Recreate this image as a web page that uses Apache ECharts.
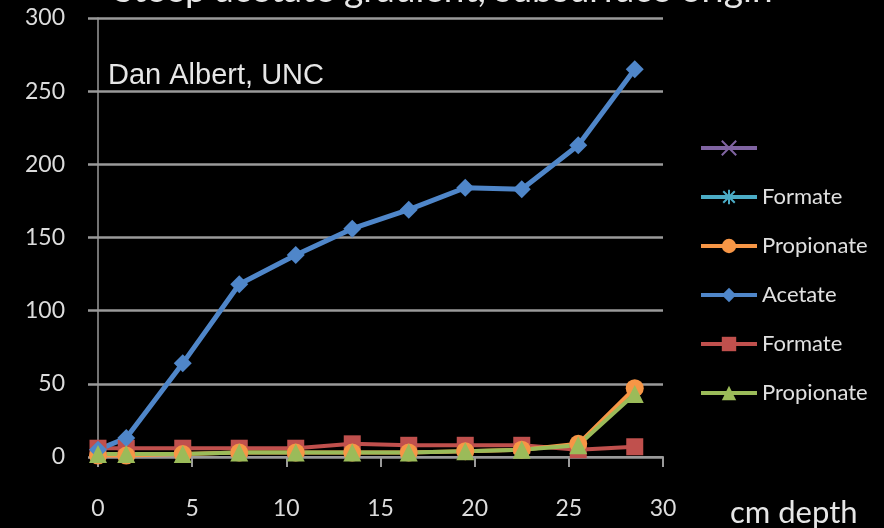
<!DOCTYPE html>
<html>
<head>
<meta charset="utf-8">
<title>Steep acetate gradient, subsurface origin</title>
<script src="https://cdn.jsdelivr.net/npm/echarts@6/dist/echarts.min.js"></script>
<style>
  html, body { margin: 0; padding: 0; background: #000; }
  #chart { width: 884px; height: 528px; }
</style>
</head>
<body>
<div id="chart"></div>
<script>
// Porewater organic acids (µM) against sediment depth (cm)
const depths = [0, 1.5, 4.5, 7.5, 10.5, 13.5, 16.5, 19.5, 22.5, 25.5, 28.5];
const acetate = [5, 13, 64, 118, 138, 156, 169, 184, 183, 213, 265];
const formate = [6, 6, 6, 6, 6, 9, 8, 8, 8, 5, 7];
const propionateA = [1, 1, 2, 3, 3, 3, 3, 4, 5, 9, 47];
const propionateB = [2, 2, 2, 3, 3, 3, 3, 4, 5, 8, 43];
const xTicks = [0, 5, 10, 15, 20, 25, 30];
const yTicks = [0, 50, 100, 150, 200, 250, 300];

const pairs = vals => depths.map((d, i) => [d, vals[i]]);
const FONT = 'Lato, "Open Sans", sans-serif';

const chart = echarts.init(document.getElementById('chart'), null, { renderer: 'canvas' });

function lineSeries(name, vals, color, symbol, size, width, stroked) {
  return {
    name: name,
    type: 'line',
    data: vals ? pairs(vals) : [],
    symbol: symbol,
    symbolSize: size,
    lineStyle: { color: color, width: width },
    itemStyle: stroked
      ? { color: color, borderColor: color, borderWidth: 2 }
      : { color: color },
    emphasis: { disabled: true },
    animation: false
  };
}

chart.setOption({
  backgroundColor: '#000',
  grid: { left: 98, right: 221, top: 18, bottom: 71 },
  xAxis: {
    type: 'value',
    min: xTicks[0],
    max: xTicks[xTicks.length - 1],
    interval: 5,
    axisLine: { show: true, lineStyle: { color: '#9a9a9a', width: 2 } },
    axisTick: { show: true, length: 10, lineStyle: { color: '#9a9a9a', width: 2 } },
    splitLine: { show: false },
    axisLabel: { color: '#dcdcdc', fontSize: 23, fontFamily: FONT, margin: 40 }
  },
  yAxis: {
    type: 'value',
    min: yTicks[0],
    max: yTicks[yTicks.length - 1],
    interval: 50,
    axisLine: { show: true, lineStyle: { color: '#9a9a9a', width: 1.5 } },
    axisTick: { show: true, length: 10, lineStyle: { color: '#9a9a9a', width: 2.5 } },
    splitLine: { show: true, lineStyle: { color: '#9a9a9a', width: 2.5 } },
    axisLabel: { color: '#dcdcdc', fontSize: 23, fontFamily: FONT, margin: 33 }
  },
  legend: {
    orient: 'vertical',
    left: 694,
    top: 132,
    itemWidth: 56,
    itemHeight: 18,
    itemGap: 27,
    lineStyle: { width: 4 },
    textStyle: { color: '#e0e0e0', fontSize: 22, fontFamily: FONT },
    data: [' ', 'Formate', 'Propionate', 'Acetate', 'Formate ', 'Propionate ']
  },
  graphic: [
    {
      type: 'text',
      style: {
        x: 443, y: 9,
        text: 'Steep acetate gradient, subsurface origin',
        fill: '#e6e6e6', font: '37px ' + FONT,
        textAlign: 'center', textVerticalAlign: 'bottom'
      },
      silent: true
    },
    {
      type: 'text',
      style: {
        x: 108, y: 76,
        text: 'Dan Albert, UNC',
        fill: '#e6e6e6', font: '29px "Liberation Sans", Arial, sans-serif',
        textVerticalAlign: 'middle'
      },
      silent: true
    },
    {
      type: 'text',
      style: {
        x: 730, y: 513,
        text: 'cm depth',
        fill: '#e6e6e6', font: '31px ' + FONT,
        textVerticalAlign: 'middle'
      },
      silent: true
    }
  ],
  series: [
    lineSeries(' ', null, '#8064a2', 'path://M0,0L10,10M10,0L0,10', 14, 3, true),
    lineSeries('Formate', null, '#4bacc6', 'path://M5,0L5,10M0,5L10,5M1,1L9,9M9,1L1,9', 14, 3, true),
    lineSeries('Formate ', formate, '#c0504d', 'rect', 17, 4),
    lineSeries('Propionate', propionateA, '#f79646', 'circle', 18, 4),
    lineSeries('Acetate', acetate, '#4f86c9', 'diamond', 18, 5),
    lineSeries('Propionate ', propionateB, '#9bbb59', 'triangle', 18, 4)
  ]
});
</script>
</body>
</html>
